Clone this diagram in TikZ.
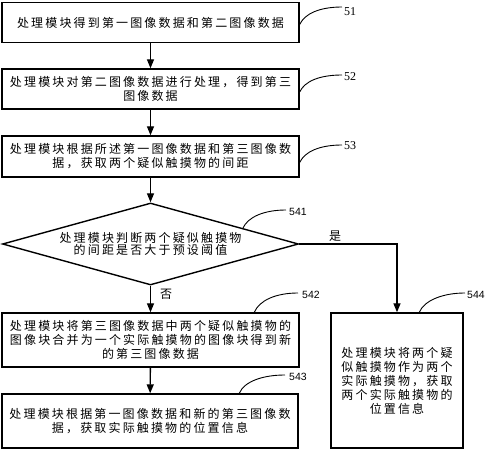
\documentclass[tikz,border=0pt]{standalone}
\usepackage{fontspec}
\newfontfamily\cjk[LetterSpace=18]{Noto Sans CJK SC}
\newfontfamily\numserif{Liberation Serif}
\newfontfamily\numsans{Liberation Sans}
\usetikzlibrary{arrows.meta,shapes.geometric,calc}
\begin{document}
\begin{tikzpicture}[x=1pt,y=1pt,
  stepbox/.style={draw,line width=1.4pt,rectangle,inner sep=0pt,align=center,
    font=\cjk\fontsize{12}{14}\selectfont},
  decision/.style={draw,line width=1.4pt,diamond,inner sep=0pt,aspect=3.6,align=center,
    minimum width=296pt,minimum height=82pt,font=\cjk\fontsize{12}{12.5}\selectfont},
  flow/.style={line width=1.4pt,-{Triangle[length=9pt,width=7pt]}},
  leader/.style={line width=0.9pt},
  tagA/.style={font=\numserif\fontsize{12}{12}\selectfont,anchor=west,inner sep=0pt},
  tagB/.style={font=\numsans\fontsize{10.5}{10.5}\selectfont,anchor=west,inner sep=0pt},
  yn/.style={font=\cjk\fontsize{12}{12}\selectfont,inner sep=0pt}]
\useasboundingbox (0,0) rectangle (488,450);
\fill[white] (0,0) rectangle (488,450);

\node[stepbox,minimum width=297pt,minimum height=40pt] (b51) at (150.5,427.5)
  {处理模块得到第一图像数据和第二图像数据};
\node[stepbox,minimum width=297pt,minimum height=40pt] (b52) at (150.5,361)
  {处理模块对第二图像数据进行处理，得到第三\\图像数据};
\node[stepbox,minimum width=297pt,minimum height=41pt] (b53) at (150.5,293.5)
  {处理模块根据所述第一图像数据和第三图像数\\据，获取两个疑似触摸物的间距};
\node[decision] (d) at (150.5,206)
  {处理模块判断两个疑似触摸物\\的间距是否大于预设阈值};
\node[stepbox,minimum width=297pt,minimum height=54pt] (b542) at (150.5,110)
  {处理模块将第三图像数据中两个疑似触摸物的\\图像块合并为一个实际触摸物的图像块得到新\\的第三图像数据};
\node[stepbox,minimum width=296pt,minimum height=54pt] (b543) at (150,29)
  {处理模块根据第一图像数据和新的第三图像数\\据，获取实际触摸物的位置信息};
\node[stepbox,minimum width=132pt,minimum height=135pt] (b544) at (397,69.5)
  {处理模块将两个疑\\似触摸物作为两个\\实际触摸物，获取\\两个实际触摸物的\\位置信息};

\draw[flow] (b51) -- (b52);
\draw[flow] (b52) -- (b53);
\draw[flow] (b53) -- (d);
\draw[flow] (d.south) -- (b542.north);
\draw[flow] (b542) -- (b543);
\draw[flow] (d.east) -| (b544.north);
\node[yn] (yes) at (335,214) {是};
\node[yn] (no) at (166,156) {否};

% leader curves and tags
\coordinate (e51) at (342,443);
\coordinate (e52) at (342,375);
\coordinate (e53) at (342,305);
\coordinate (e541) at (286,240);
\coordinate (e542) at (298,157);
\coordinate (e544) at (465,157);
\coordinate (e543) at (285,75);
\draw[leader] ($(b51.east)+(0,-2)$) .. controls +(5,11) and +(-22,0) .. (e51);
\draw[leader] ($(b52.east)+(0,-3)$) .. controls +(5,11) and +(-22,0) .. (e52);
\draw[leader] ($(b53.east)+(0,-6)$) .. controls +(5,11) and +(-22,0) .. (e53);
\draw[leader] (243,222) .. controls +(5,11) and +(-22,0) .. (e541);
\draw[leader] ($(b542.north west)+(253,0)$) .. controls +(5,12) and +(-22,0) .. (e542);
\draw[leader] ($(b544.north west)+(89,0)$) .. controls +(5,12) and +(-22,0) .. (e544);
\draw[leader] ($(b543.north west)+(238,0)$) .. controls +(5,12) and +(-22,0) .. (e543);
\node[tagA] (t51) at (344,438) {51};
\node[tagA] (t52) at (344,373) {52};
\node[tagA] (t53) at (344,304) {53};
\node[tagB] (t541) at (289,238) {541};
\node[tagB] (t542) at (302,155) {542};
\node[tagB] (t544) at (467,155) {544};
\node[tagB] (t543) at (289,73) {543};
\end{tikzpicture}
\end{document}
